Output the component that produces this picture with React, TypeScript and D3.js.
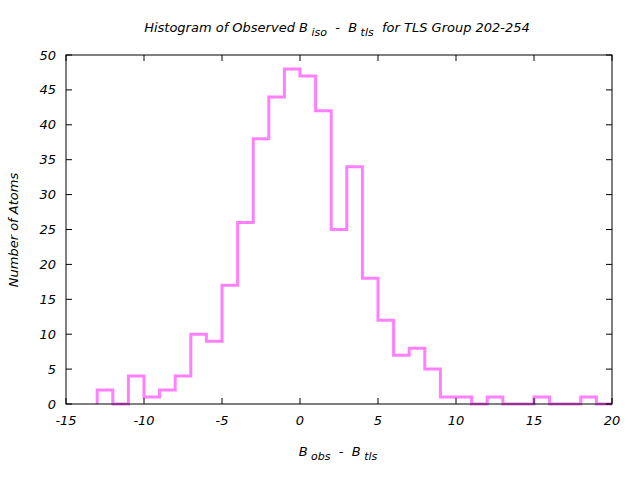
import React from "react";
import * as d3 from "d3";

const binStarts = [-13,-12,-11,-10,-9,-8,-7,-6,-5,-4,-3,-2,-1,0,1,2,3,4,5,6,7,8,9,10,11,12,13,14,15,16,17,18,19];
const counts = [2,0,4,1,2,4,10,9,17,26,38,44,48,47,42,25,34,18,12,7,8,5,1,1,0,1,0,0,1,0,0,1,0];
const xTicks = [-15,-10,-5,0,5,10,15,20];
const yTicks = [0,5,10,15,20,25,30,35,40,45,50];
const binWidth = 1;

export default function App() {
  const W = 640, H = 480;
  const L = 66, R = 612, T = 55, B = 404;
  const x = d3.scaleLinear().domain([-15, 20]).range([L, R]);
  const y = d3.scaleLinear().domain([0, 50]).range([B, T]);
  const pts: [number, number][] = [[binStarts[0], 0]];
  binStarts.forEach((s, i) => {
    pts.push([s, counts[i]]);
    pts.push([s + binWidth, counts[i]]);
  });
  pts.push([binStarts[binStarts.length - 1] + binWidth, 0]);
  const line = d3.line<[number, number]>().x(d => x(d[0])).y(d => y(d[1]));
  const font = "'DejaVu Sans', sans-serif";
  const sp = "\u00a0";
  return (
    <svg width={W} height={H} style={{ position: "absolute", left: 0, top: 0, background: "#fff" }}>
      <rect x={0} y={0} width={W} height={H} fill="#fff" />
      <path d={line(pts) || ""} fill="none" stroke="#ff80ff" strokeWidth={3} strokeLinejoin="miter" />
      <rect x={L} y={T} width={R - L} height={B - T} fill="none" stroke="#000" strokeWidth={1} />
      {xTicks.map(t => (
        <g key={"x" + t}>
          <line x1={x(t)} x2={x(t)} y1={B} y2={B - 6} stroke="#000" />
          <line x1={x(t)} x2={x(t)} y1={T} y2={T + 6} stroke="#000" />
          <text x={x(t)} y={425} textAnchor="middle" fontFamily={font} fontStyle="italic" fontSize={13}>{t}</text>
        </g>
      ))}
      {yTicks.map(t => (
        <g key={"y" + t}>
          <line x1={L} x2={L + 6} y1={y(t)} y2={y(t)} stroke="#000" />
          <line x1={R} x2={R - 6} y1={y(t)} y2={y(t)} stroke="#000" />
          <text x={56} y={y(t) + 4.5} textAnchor="end" fontFamily={font} fontStyle="italic" fontSize={13}>{t}</text>
        </g>
      ))}
      <text x={337} y={32} textAnchor="middle" fontFamily={font} fontStyle="italic" fontSize={13}>
        Histogram of Observed B<tspan dy={4} fontSize={11}>{sp + "iso"}</tspan><tspan dy={-4}>{sp + sp + "-" + sp + sp + "B"}</tspan><tspan dy={4} fontSize={11}>{sp + "tls"}</tspan><tspan dy={-4}>{sp + sp + "for TLS Group 202-254"}</tspan>
      </text>
      <text x={338} y={456} textAnchor="middle" fontFamily={font} fontStyle="italic" fontSize={13}>
        B<tspan dy={4} fontSize={11}>{sp + "obs"}</tspan><tspan dy={-4}>{sp + sp + "-" + sp + sp + "B"}</tspan><tspan dy={4} fontSize={11}>{sp + "tls"}</tspan>
      </text>
      <text transform="translate(18,230) rotate(-90)" textAnchor="middle" fontFamily={font} fontStyle="italic" fontSize={13}>Number of Atoms</text>
    </svg>
  );
}
